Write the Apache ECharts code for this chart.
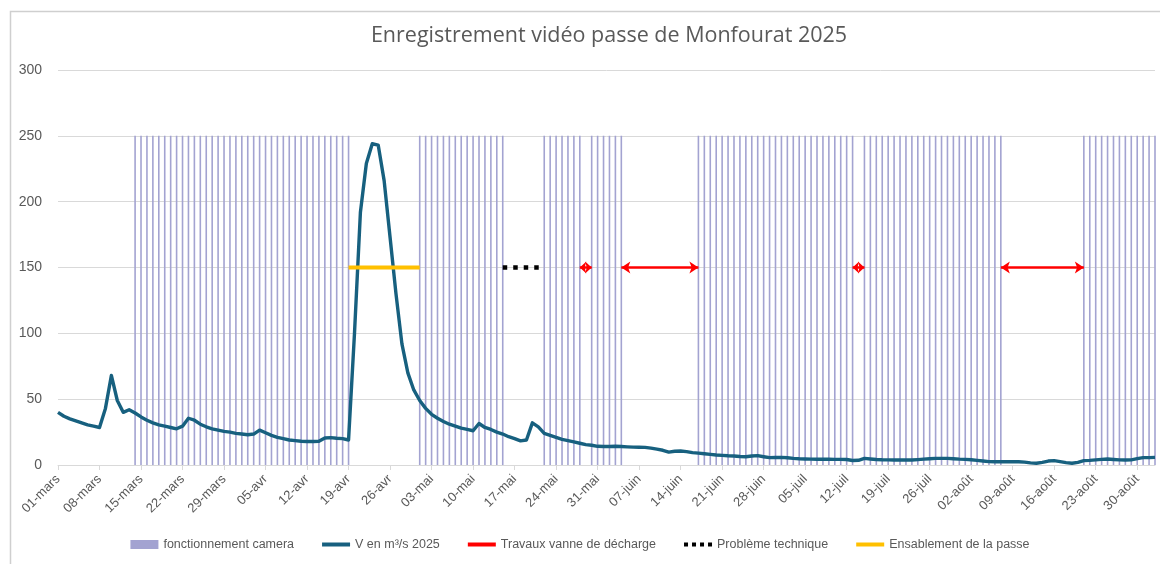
<!DOCTYPE html>
<html>
<head>
<meta charset="utf-8">
<script src="https://cdn.jsdelivr.net/npm/echarts@6/dist/echarts.min.js"></script>
<style>
  html, body { margin: 0; padding: 0; background: #fff; }
  #chart { width: 1160px; height: 564px; }
</style>
</head>
<body>
<div id="chart"></div>
<script>
// jours du 01-mars au 02-sept
const monthNames = ["mars", "avr", "mai", "juin", "juil", "août", "sept"];
const monthDays = [31, 30, 31, 30, 31, 31, 2];
const days = [];
monthNames.forEach((m, i) => {
  for (let d = 1; d <= monthDays[i]; d++) days.push(String(d).padStart(2, "0") + "-" + m);
});

// débit journalier (m3/s)
const debit = [
  40, 37, 35, 33.5, 32, 30.5, 29.5, 28.5, 43, 68,
  49, 40, 42, 39.5, 36.5, 34, 32, 30.5, 29.5, 28.5,
  27.5, 29.5, 35.5, 34, 31, 29, 27.5, 26.5, 25.5, 25,
  24, 23.5, 23, 23.5, 26.5, 24.5, 22.5, 21, 20, 19,
  18.5, 18, 17.8, 17.8, 18, 20.5, 20.8, 20.3, 20, 19,
  100, 192, 229, 244, 243, 216, 173, 130, 92, 70,
  57, 49, 43, 38.5, 35.5, 33, 31, 29.5, 28, 27,
  26, 31.5, 28.5, 27, 25, 23.5, 21.5, 20, 18.3, 19,
  32, 29, 24, 22.5, 21, 19.5, 18.5, 17.5, 16.5, 15.5,
  15, 14.2, 14, 14, 14.2, 14, 13.8, 13.6, 13.5, 13.4,
  12.8, 12, 11.2, 9.8, 10.4, 10.6, 10.2, 9.4, 9, 8.5,
  8.1, 7.6, 7.3, 7, 6.8, 6.5, 6.3, 6.8, 7.1, 6.3,
  5.6, 5.7, 5.8, 5.5, 5, 4.7, 4.6, 4.5, 4.4, 4.5,
  4.4, 4.3, 4.3, 4.2, 3.4, 3.6, 5, 4.6, 4.2, 4,
  3.9, 3.8, 3.9, 3.8, 3.8, 4.1, 4.5, 4.8, 5, 5,
  5, 4.8, 4.5, 4.3, 4, 3.5, 3, 2.6, 2.5, 2.5,
  2.5, 2.5, 2.5, 2.2, 1.6, 1.3, 2, 3, 3.3, 2.6,
  1.8, 1.3, 2, 3.3, 3.5, 3.9, 4.3, 4.6, 4.2, 3.9,
  3.8, 3.9, 4.8, 5.6, 5.6, 5.8
];

// périodes de fonctionnement camera
const cameraPeriods = [
  ["14-mars", "19-avr"], ["01-mai", "15-mai"], ["22-mai", "28-mai"],
  ["30-mai", "04-juin"], ["17-juin", "13-juil"], ["15-juil", "07-août"],
  ["21-août", "02-sept"]
];
const cameraHeight = 250;
const markerLevel = 150;
const travaux = [["28-mai", "30-mai"], ["04-juin", "17-juin"], ["13-juil", "15-juil"], ["07-août", "21-août"]];
const probleme = [["15-mai", "22-mai"]];
const ensablement = [["19-avr", "01-mai"]];

function spanData(spans, val) {
  const out = days.map(() => null);
  spans.forEach(([a, b]) => {
    for (let i = days.indexOf(a); i <= days.indexOf(b); i++) out[i] = val;
  });
  return out;
}

// flèches doubles, plus courtes pour les travaux d'un seul jour
function arrowLines(spans) {
  return spans.map(([a, b]) => {
    const short = days.indexOf(b) - days.indexOf(a) <= 2;
    const size = short ? [9, 6.5] : [9, 9];
    return [
      { coord: [a, markerLevel], symbolSize: size },
      { coord: [b, markerLevel], symbolSize: size }
    ];
  });
}

const grey = "#595959";
const font = "'Liberation Sans', Arial, sans-serif";
const barIcon = "path://M0,0h28v4h-28z";
const dotIcon = "path://M0,0h4v4h-4z M8,0h4v4h-4z M16,0h4v4h-4z M24,0h4v4h-4z";

const chart = echarts.init(document.getElementById("chart"));
chart.setOption({
  animation: false,
  title: {
    text: "Enregistrement vidéo passe de Monfourat 2025",
    left: 604,
    textAlign: "center",
    top: 20,
    textStyle: { color: grey, fontSize: 21.5, fontWeight: "normal", fontFamily: "'Open Sans', sans-serif" }
  },
  graphic: [{
    type: "rect",
    shape: { x: 10.5, y: 11.5, width: 1200, height: 600 },
    style: { fill: "none", stroke: "#cfcfcf", lineWidth: 1.5 },
    silent: true
  }],
  legend: {
    bottom: 8,
    left: "center",
    itemWidth: 28,
    itemHeight: 9,
    itemGap: 28,
    textStyle: { color: grey, fontSize: 12.5, fontFamily: font },
    data: [
      { name: "fonctionnement camera", icon: "rect" },
      { name: "V en m³/s 2025", icon: barIcon },
      { name: "Travaux vanne de décharge", icon: barIcon },
      { name: "Problème technique", icon: dotIcon },
      { name: "Ensablement de la passe", icon: barIcon }
    ]
  },
  grid: { left: 58, right: 5, top: 70, bottom: 99 },
  xAxis: {
    type: "category",
    data: days,
    boundaryGap: false,
    axisLine: { lineStyle: { color: "#d9d9d9" } },
    axisTick: { interval: 6, length: 5, lineStyle: { color: "#d9d9d9" } },
    axisLabel: { interval: 6, rotate: 45, color: grey, fontSize: 13, fontFamily: font, margin: 12 },
    splitLine: { show: false }
  },
  yAxis: {
    type: "value",
    min: 0,
    max: 300,
    interval: 50,
    axisLine: { show: false },
    axisTick: { show: false },
    axisLabel: { color: grey, fontSize: 14, fontFamily: font, margin: 16 },
    splitLine: { lineStyle: { color: "#d9d9d9" } }
  },
  series: [
    {
      name: "fonctionnement camera",
      type: "bar",
      data: spanData(cameraPeriods, cameraHeight),
      barWidth: 1.6,
      itemStyle: { color: "#a3a3d1" },
      silent: true
    },
    {
      name: "V en m³/s 2025",
      type: "line",
      data: debit,
      symbol: "none",
      lineStyle: { color: "#17607f", width: 3.4, join: "round" },
      itemStyle: { color: "#17607f" }
    },
    {
      name: "Travaux vanne de décharge",
      type: "line",
      data: [],
      symbol: "none",
      lineStyle: { color: "#ff0000", width: 3 },
      itemStyle: { color: "#ff0000" },
      markLine: {
        silent: true,
        symbol: ["arrow", "arrow"],
        label: { show: false },
        lineStyle: { color: "#ff0000", width: 2.5, type: "solid" },
        data: arrowLines(travaux)
      }
    },
    {
      name: "Problème technique",
      type: "line",
      data: spanData(probleme, markerLevel),
      symbol: "none",
      lineStyle: { color: "#000000", width: 4.5, type: [4.5, 6], cap: "butt" },
      itemStyle: { color: "#000000" }
    },
    {
      name: "Ensablement de la passe",
      type: "line",
      data: spanData(ensablement, markerLevel),
      symbol: "none",
      lineStyle: { color: "#ffc000", width: 4 },
      itemStyle: { color: "#ffc000" }
    }
  ]
});
</script>
</body>
</html>
